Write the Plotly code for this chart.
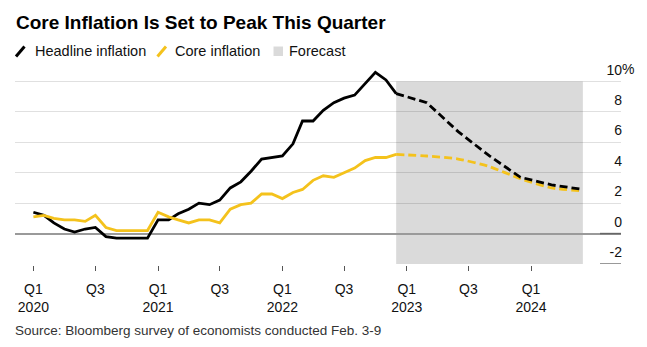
import plotly.graph_objects as go
import pandas as pd

# ---------------- data ----------------
actual_dates = pd.date_range("2020-01-01", "2022-12-01", freq="MS").strftime("%Y-%m-%d").tolist()
headline_actual = [1.4, 1.2, 0.7, 0.3, 0.1, 0.3, 0.4, -0.2, -0.3, -0.3, -0.3, -0.3,
                   0.9, 0.9, 1.3, 1.6, 2.0, 1.9, 2.2, 3.0, 3.4, 4.1, 4.9, 5.0,
                   5.1, 5.9, 7.4, 7.4, 8.1, 8.6, 8.9, 9.1, 9.9, 10.6, 10.1, 9.2]
core_actual = [1.1, 1.2, 1.0, 0.9, 0.9, 0.8, 1.2, 0.4, 0.2, 0.2, 0.2, 0.2,
               1.4, 1.1, 0.9, 0.7, 0.9, 0.9, 0.7, 1.6, 1.9, 2.0, 2.6, 2.6,
               2.3, 2.7, 2.9, 3.5, 3.8, 3.7, 4.0, 4.3, 4.8, 5.0, 5.0, 5.2]

forecast_dates = ["2022-12-01", "2023-03-01", "2023-06-01", "2023-09-01",
                  "2023-12-01", "2024-03-01", "2024-06-01"]
headline_forecast = [9.2, 8.6, 6.7, 5.1, 3.7, 3.2, 2.9]
core_forecast = [5.2, 5.1, 4.9, 4.4, 3.6, 3.0, 2.8]

tick_dates = ["2020-01-01", "2020-07-01", "2021-01-01", "2021-07-01", "2022-01-01",
              "2022-07-01", "2023-01-01", "2023-07-01", "2024-01-01"]
tick_text = ["Q1<br>2020", "Q3", "Q1<br>2021", "Q3", "Q1<br>2022", "Q3",
             "Q1<br>2023", "Q3", "Q1<br>2024"]
y_ticks = [-2, 0, 2, 4, 6, 8, 10]
y_ticktext = ["-2", "0", "2", "4", "6", "8", "10"]

title = "Core Inflation Is Set to Peak This Quarter"
legend_labels = ["Headline inflation", "Core inflation", "Forecast"]
source = "Source: Bloomberg survey of economists conducted Feb. 3-9"

BLACK = "#000000"
YELLOW = "#f4c21c"
GRAY_BOX = "#dadada"
FONT = "Liberation Sans, Arial, sans-serif"

# ---------------- geometry helpers ----------------
W, H = 647, 347
ML, MR, MT, MB = 15, 26, 51, 83
PW, PH = W - ML - MR, H - MT - MB


def px(x):
    return (x - ML) / PW


def py(y):
    return (H - MB - y) / PH


fig = go.Figure()

fig.add_trace(go.Scatter(x=actual_dates, y=headline_actual, mode="lines",
                         line=dict(color=BLACK, width=2.8), name=legend_labels[0],
                         showlegend=False))
fig.add_trace(go.Scatter(x=actual_dates, y=core_actual, mode="lines",
                         line=dict(color=YELLOW, width=2.8), name=legend_labels[1],
                         showlegend=False))
fig.add_trace(go.Scatter(x=forecast_dates, y=core_forecast, mode="lines",
                         line=dict(color=YELLOW, width=2.8, dash="8px,4px", shape="spline",
                                   smoothing=0.6),
                         showlegend=False))
fig.add_trace(go.Scatter(x=forecast_dates, y=headline_forecast, mode="lines",
                         line=dict(color=BLACK, width=2.8, dash="8px,4px"),
                         showlegend=False))

shapes = [
    # forecast band
    dict(type="rect", xref="x", yref="y", x0=forecast_dates[0], x1=forecast_dates[-1],
         y0=-2, y1=10, fillcolor=GRAY_BOX, line=dict(width=0), layer="below"),
    # short ticks at right end of -2 and 0 lines
    dict(type="line", xref="paper", yref="y", x0=px(600), x1=1, y0=-2, y1=-2,
         line=dict(color="#555555", width=1.2), layer="above"),
    dict(type="line", xref="paper", yref="y", x0=px(600), x1=1, y0=0, y1=0,
         line=dict(color="#666666", width=1.5), layer="above"),
    # legend icons
    dict(type="line", xref="paper", yref="paper", x0=px(16), y0=py(56.5), x1=px(24.5),
         y1=py(46.5), line=dict(color=BLACK, width=3)),
    dict(type="line", xref="paper", yref="paper", x0=px(157.5), y0=py(56.5), x1=px(166),
         y1=py(46.5), line=dict(color=YELLOW, width=3)),
    dict(type="rect", xref="paper", yref="paper", x0=px(273.5), y0=py(56), x1=px(283),
         y1=py(46.5), fillcolor=GRAY_BOX, line=dict(width=0)),
]

annotations = [
    dict(text="<b>" + title + "</b>", xref="paper", yref="paper", x=px(14), y=py(22),
         xanchor="left", yanchor="middle", showarrow=False,
         font=dict(size=19, color="#000000", family=FONT)),
    dict(text=legend_labels[0], xref="paper", yref="paper", x=px(33), y=py(51),
         xanchor="left", yanchor="middle", showarrow=False,
         font=dict(size=14.5, color="#111111", family=FONT)),
    dict(text=legend_labels[1], xref="paper", yref="paper", x=px(173.5), y=py(51),
         xanchor="left", yanchor="middle", showarrow=False,
         font=dict(size=14.5, color="#111111", family=FONT)),
    dict(text=legend_labels[2], xref="paper", yref="paper", x=px(287), y=py(51),
         xanchor="left", yanchor="middle", showarrow=False,
         font=dict(size=14.5, color="#111111", family=FONT)),
    dict(text=source, xref="paper", yref="paper", x=px(13), y=py(330.5),
         xanchor="left", yanchor="middle", showarrow=False,
         font=dict(size=13.5, color="#333333", family=FONT)),
    dict(text="%", xref="paper", yref="paper", x=1, y=py(68.5),
         xanchor="left", yanchor="middle", showarrow=False, xshift=-1.5,
         font=dict(size=14, color="#111111", family=FONT)),
]

fig.update_layout(
    width=W, height=H,
    margin=dict(l=ML, r=MR, t=MT, b=MB, pad=0),
    paper_bgcolor="white", plot_bgcolor="white",
    showlegend=False,
    shapes=shapes,
    annotations=annotations,
    font=dict(family=FONT, size=14, color="#111111"),
    xaxis=dict(
        type="date",
        range=["2019-11-08", "2024-09-21"],
        tickvals=tick_dates, ticktext=tick_text,
        ticks="outside", ticklen=5, tickwidth=1, tickcolor="#555555",
        ticklabelstandoff=6,
        showgrid=False, zeroline=False,
        showline=True, linecolor="white", linewidth=2,
        tickfont=dict(size=14, color="#111111", family=FONT),
    ),
    yaxis=dict(
        range=[-2, 12],
        side="right",
        tickvals=y_ticks, ticktext=y_ticktext,
        ticks="",
        ticklabelposition="inside top",
        ticklabelstandoff=-4,
        ticklabelshift=-2,
        showgrid=True, gridcolor="rgba(0,0,0,0.12)", gridwidth=1,
        zeroline=True, zerolinecolor="#9a9a9a", zerolinewidth=1.5,
        showline=False,
        tickfont=dict(size=14, color="#111111", family=FONT),
    ),
)

fig.write_html("out.html")
